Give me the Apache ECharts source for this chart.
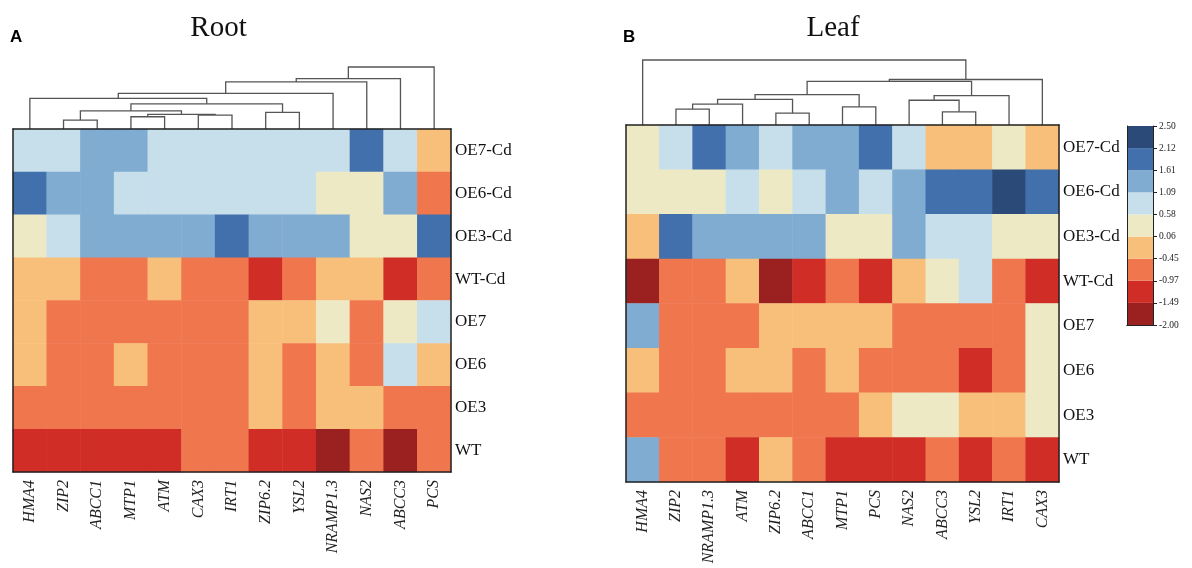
<!DOCTYPE html>
<html>
<head>
<meta charset="utf-8">
<script src="https://cdn.jsdelivr.net/npm/echarts@6/dist/echarts.min.js"></script>
<style>html,body{margin:0;padding:0;background:#fff}#c{width:1192px;height:568px}</style>
</head>
<body>
<div id="c"></div>
<script>
// ---------- data ----------
const rowLabels = ['OE7-Cd','OE6-Cd','OE3-Cd','WT-Cd','OE7','OE6','OE3','WT'];
const rootCols = ['HMA4','ZIP2','ABCC1','MTP1','ATM','CAX3','IRT1','ZIP6.2','YSL2','NRAMP1.3','NAS2','ABCC3','PCS'];
const leafCols = ['HMA4','ZIP2','NRAMP1.3','ATM','ZIP6.2','ABCC1','MTP1','PCS','NAS2','ABCC3','YSL2','IRT1','CAX3'];

const rootValues = [
  [0.85,0.85,1.35,1.35,0.85,0.85,0.85,0.85,0.85,0.85,1.85,0.85,-0.2],
  [1.85,1.35,1.35,0.85,0.85,0.85,0.85,0.85,0.85,0.3,0.3,1.35,-0.7],
  [0.3,0.85,1.35,1.35,1.35,1.35,1.85,1.35,1.35,1.35,0.3,0.3,1.85],
  [-0.2,-0.2,-0.7,-0.7,-0.2,-0.7,-0.7,-1.2,-0.7,-0.2,-0.2,-1.2,-0.7],
  [-0.2,-0.7,-0.7,-0.7,-0.7,-0.7,-0.7,-0.2,-0.2,0.3,-0.7,0.3,0.85],
  [-0.2,-0.7,-0.7,-0.2,-0.7,-0.7,-0.7,-0.2,-0.7,-0.2,-0.7,0.85,-0.2],
  [-0.7,-0.7,-0.7,-0.7,-0.7,-0.7,-0.7,-0.2,-0.7,-0.2,-0.2,-0.7,-0.7],
  [-1.2,-1.2,-1.2,-1.2,-1.2,-0.7,-0.7,-1.2,-1.2,-1.75,-0.7,-1.75,-0.7]
];
const leafValues = [
  [0.3,0.85,1.85,1.35,0.85,1.35,1.35,1.85,0.85,-0.2,-0.2,0.3,-0.2],
  [0.3,0.3,0.3,0.85,0.3,0.85,1.35,0.85,1.35,1.85,1.85,2.3,1.85],
  [-0.2,1.85,1.35,1.35,1.35,1.35,0.3,0.3,1.35,0.85,0.85,0.3,0.3],
  [-1.75,-0.7,-0.7,-0.2,-1.75,-1.2,-0.7,-1.2,-0.2,0.3,0.85,-0.7,-1.2],
  [1.35,-0.7,-0.7,-0.7,-0.2,-0.2,-0.2,-0.2,-0.7,-0.7,-0.7,-0.7,0.3],
  [-0.2,-0.7,-0.7,-0.2,-0.2,-0.7,-0.2,-0.7,-0.7,-0.7,-1.2,-0.7,0.3],
  [-0.7,-0.7,-0.7,-0.7,-0.7,-0.7,-0.7,-0.2,0.3,0.3,-0.2,-0.2,0.3],
  [1.35,-0.7,-0.7,-1.2,-0.2,-0.7,-1.2,-1.2,-1.2,-0.7,-1.2,-0.7,-1.2]
];

// dendrogram merges: [childA, childB, height]; leaves 0..12, merge k => 13+k
const rootMerges = [
  [1,2,9],[3,4,12.3],[5,6,14],[14,15,14.7],[13,16,18.3],[7,8,16.7],
  [17,18,25.3],[0,19,30.7],[20,9,35.7],[21,10,47.3],[22,11,50.7],[23,12,62.3]
];
const leafMerges = [
  [1,2,16],[13,3,21],[4,5,12],[14,15,26],[6,7,18.3],[16,17,30.7],
  [9,10,13.3],[8,19,25],[20,11,29.7],[18,21,44],[22,12,46],[0,23,65.7]
];

// colour scale
const cbLabels = ['2.50','2.12','1.61','1.09','0.58','0.06','-0.45','-0.97','-1.49','-2.00'];
const palette = ['#9b2020','#d02d27','#f0764e','#f8bf7a','#ede9c5','#c6dfeb','#7facd0','#4170ac','#2b4a78']; // low -> high

// ---------- build ----------
const SERIF = '"Liberation Serif", "Times New Roman", serif';
const thresholds = cbLabels.slice().reverse().map(Number);
const pieces = palette.map((c,i)=>({gte: thresholds[i], lt: thresholds[i+1] + (i===palette.length-1?0.001:0), color: c}));

function heatData(vals){
  const d=[];
  vals.forEach((row,r)=>row.forEach((v,c)=>d.push([c,r,v])));
  return d;
}
function dendroLines(merges, n){
  const pos=[], hgt=[];
  for(let i=0;i<n;i++){pos[i]=i;hgt[i]=0;}
  const out=[];
  merges.forEach((m,k)=>{
    const [a,b,h]=m;
    out.push({coords:[[pos[a],hgt[a]],[pos[a],h],[pos[b],h],[pos[b],hgt[b]]]});
    pos[n+k]=(pos[a]+pos[b])/2; hgt[n+k]=h;
  });
  return out;
}
const rootTop = Math.max(...rootMerges.map(m=>m[2]));
const leafTop = Math.max(...leafMerges.map(m=>m[2]));

const frameLine = {show:true, lineStyle:{color:'#222', width:1.5}};
function heatAxes(cols, gi){
  return {
    x:[
      {type:'category', gridIndex:gi, data:cols, position:'bottom', z:10,
       axisLine:frameLine, axisTick:{show:false},
       axisLabel:{rotate:90, margin:8, fontFamily:SERIF, fontStyle:'italic', fontSize:16, color:'#222'}},
      {type:'category', gridIndex:gi, data:cols, position:'top', z:10,
       axisLine:frameLine, axisTick:{show:false}, axisLabel:{show:false}}
    ],
    y:[
      {type:'category', gridIndex:gi, data:rowLabels, inverse:true, position:'right', z:10,
       axisLine:frameLine, axisTick:{show:false},
       axisLabel:{margin:4, fontFamily:SERIF, fontSize:17, color:'#111'}},
      {type:'category', gridIndex:gi, data:rowLabels, inverse:true, position:'left', z:10,
       axisLine:frameLine, axisTick:{show:false}, axisLabel:{show:false}}
    ]
  };
}
const ra = heatAxes(rootCols,0), la = heatAxes(leafCols,2);
const hiddenVal = (gi,min,max)=>({type:'value', gridIndex:gi, min:min, max:max, show:false});

const option = {
  animation:false,
  grid:[
    {left:13, top:129, width:438, height:343},
    {left:13, top:67, width:438, height:62},
    {left:626, top:125, width:433, height:357},
    {left:626, top:60, width:433, height:65},
    {left:1127, top:126, width:26, height:199}
  ],
  xAxis:[
    ra.x[0], ra.x[1], hiddenVal(1,-0.5,rootCols.length-0.5),
    la.x[0], la.x[1], hiddenVal(3,-0.5,leafCols.length-0.5),
    {type:'category', gridIndex:4, data:[''], z:10, axisLine:{show:true,lineStyle:{color:'#222',width:1}}, axisTick:{show:false}, axisLabel:{show:false}},
    {type:'category', gridIndex:4, data:[''], position:'top', z:10, axisLine:{show:true,lineStyle:{color:'#222',width:1}}, axisTick:{show:false}, axisLabel:{show:false}}
  ],
  yAxis:[
    ra.y[0], ra.y[1], hiddenVal(1,0,rootTop),
    la.y[0], la.y[1], hiddenVal(3,0,leafTop),
    {type:'value', gridIndex:4, min:0, max:palette.length, interval:1, position:'right', z:10,
     splitLine:{show:false}, axisLine:{show:true,lineStyle:{color:'#222',width:1}},
     axisTick:{show:true,length:4,lineStyle:{color:'#222'}},
     axisLabel:{margin:6, fontFamily:SERIF, fontSize:9.5, color:'#222', formatter:(v)=>cbLabels[palette.length - v]}},
    {type:'value', gridIndex:4, min:0, max:palette.length, position:'left', z:10, splitLine:{show:false},
     axisLine:{show:true,lineStyle:{color:'#222',width:1}}, axisTick:{show:false}, axisLabel:{show:false}}
  ],
  visualMap:{type:'piecewise', show:false, seriesIndex:[0,1], pieces:pieces},
  series:[
    {type:'heatmap', xAxisIndex:0, yAxisIndex:0, data:heatData(rootValues), emphasis:{disabled:true}},
    {type:'heatmap', xAxisIndex:3, yAxisIndex:3, data:heatData(leafValues), emphasis:{disabled:true}},
    {type:'lines', coordinateSystem:'cartesian2d', xAxisIndex:2, yAxisIndex:2, polyline:true, clip:false,
     lineStyle:{color:'#555', width:1.3, opacity:1}, data:dendroLines(rootMerges, rootCols.length)},
    {type:'lines', coordinateSystem:'cartesian2d', xAxisIndex:5, yAxisIndex:5, polyline:true, clip:false,
     lineStyle:{color:'#555', width:1.3, opacity:1}, data:dendroLines(leafMerges, leafCols.length)}
  ].concat(palette.map(c=>({type:'bar', xAxisIndex:6, yAxisIndex:6, stack:'cb', data:[1],
     barWidth:'100%', itemStyle:{color:c}, emphasis:{disabled:true}}))),
  graphic:[
    {type:'text', x:218.5, y:28, style:{text:'Root', font:'29px '+SERIF, fill:'#111', textAlign:'center', textVerticalAlign:'middle'}},
    {type:'text', x:833, y:28, style:{text:'Leaf', font:'29px '+SERIF, fill:'#111', textAlign:'center', textVerticalAlign:'middle'}},
    {type:'text', x:10, y:37, style:{text:'A', font:'bold 17px "Liberation Sans", Arial, sans-serif', fill:'#000', textAlign:'left', textVerticalAlign:'middle'}},
    {type:'text', x:623, y:37, style:{text:'B', font:'bold 17px "Liberation Sans", Arial, sans-serif', fill:'#000', textAlign:'left', textVerticalAlign:'middle'}}
  ]
};
const chart = echarts.init(document.getElementById('c'), null, {renderer:'canvas'});
chart.setOption(option);
</script>
</body>
</html>
